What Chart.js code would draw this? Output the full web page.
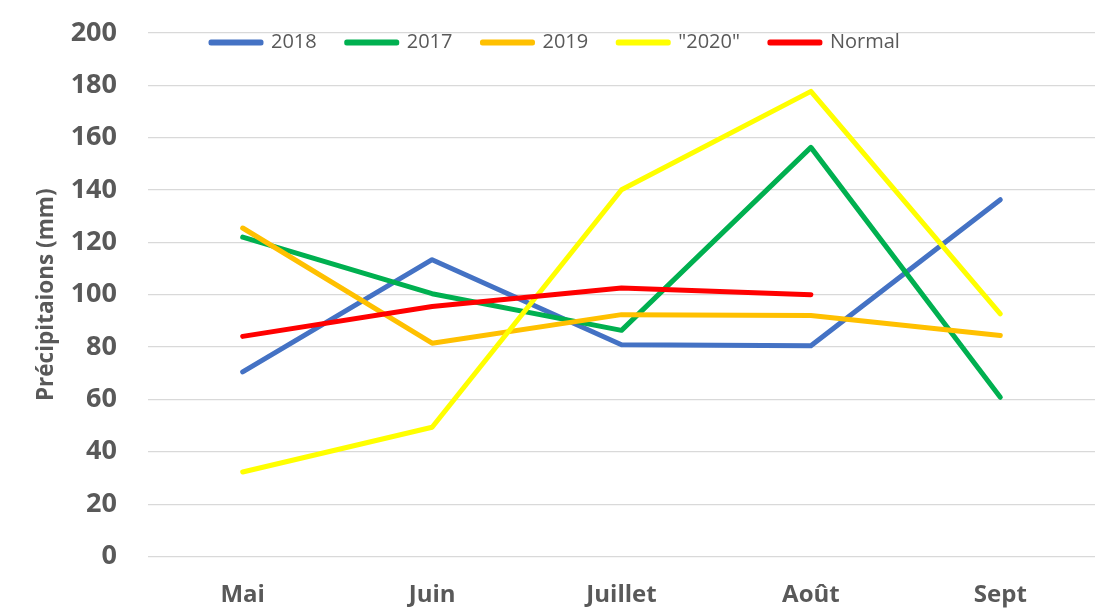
<!DOCTYPE html>
<html>
<head>
<meta charset="utf-8">
<script src="https://cdn.jsdelivr.net/npm/chart.js@4"></script>
<style>
  html, body { margin: 0; padding: 0; background: #fff; }
  #wrap { width: 1104px; height: 611px; }
</style>
</head>
<body>
<div id="wrap"><canvas id="myChart"></canvas></div>
<script>
// Données
const months = ['Mai', 'Juin', 'Juillet', 'Août', 'Sept'];
const pluie2018 = [70.5, 113.4, 80.9, 80.5, 136.3];
const pluie2017 = [122, 100.4, 86.4, 156.3, 60.8];
const pluie2019 = [125.5, 81.5, 92.4, 92.1, 84.4];
const pluie2020 = [32.3, 49.4, 140.1, 177.7, 92.7];
const pluieNormal = [84.1, 95.5, 102.6, 100, null];
const yTicks = [0, 20, 40, 60, 80, 100, 120, 140, 160, 180, 200];

const grey = '#595959';

function serie(label, data, color, order) {
  return {
    label: label,
    data: data,
    borderColor: color,
    backgroundColor: color,
    borderWidth: 5,
    borderCapStyle: 'round',
    borderJoinStyle: 'round',
    pointRadius: 0,
    tension: 0,
    spanGaps: false,
    order: order // les dernières séries passent dessus, comme dans Excel
  };
}

// la légende chevauche le haut du graphique : on la recale après le layout
// (la légende est clippée à sa boîte, donc on agrandit aussi bottom)
const legendPlace = {
  id: 'legendPlace',
  afterLayout(chart) {
    const lg = chart.legend;
    lg.left = 181;
    lg.top = 2.5;
    lg.bottom = 70;
  }
};

function renderChart() {
  const ctx = document.querySelector('#myChart').getContext('2d');
  new Chart(ctx, {
    type: 'line',
    data: {
      labels: months,
      datasets: [
        serie('2018', pluie2018, '#4472C4', 5),
        serie('2017', pluie2017, '#00B050', 4),
        serie('2019', pluie2019, '#FFC000', 3),
        serie('"2020"', pluie2020, '#FFFF00', 2),
        serie('Normal', pluieNormal, '#FF0000', 1)
      ]
    },
    options: {
      responsive: true,
      maintainAspectRatio: false,
      animation: false,
      layout: { padding: { left: 0, right: 9, top: 0, bottom: 3.5 } },
      plugins: {
        tooltip: { enabled: false },
        legend: {
          position: 'top',
          align: 'start',
          reverse: true,
          maxHeight: 33,
          labels: {
            boxWidth: 50,
            boxHeight: 1,
            padding: 30,
            color: grey,
            font: { family: 'Open Sans', size: 20 }
          }
        }
      },
      scales: {
        x: {
          offset: true,
          grid: { display: false, drawTicks: false },
          border: { display: false },
          afterFit: axis => { axis.height = 51; },
          ticks: {
            color: grey,
            padding: 24,
            maxRotation: 0,
            font: { family: 'Open Sans', size: 24, weight: 'bold' }
          }
        },
        y: {
          min: 0,
          max: 200,
          afterBuildTicks: axis => { axis.ticks = yTicks.map(v => ({ value: v })); },
          afterFit: axis => {
            axis.width = 148;
            axis.paddingTop = 0;
            axis.paddingBottom = 0;
          },
          grid: { color: '#d9d9d9', lineWidth: 1.3, drawTicks: false },
          border: { display: false },
          ticks: {
            color: grey,
            padding: 31,
            font: { family: 'Open Sans', size: 27, weight: 'bold' }
          },
          title: {
            display: true,
            text: 'Précipitaions (mm)',
            color: grey,
            padding: { top: 33.5, bottom: 0 },
            font: { family: 'Open Sans', size: 22.5, weight: 'bold' }
          }
        }
      }
    },
    plugins: [legendPlace]
  });
}

renderChart();
</script>
</body>
</html>
